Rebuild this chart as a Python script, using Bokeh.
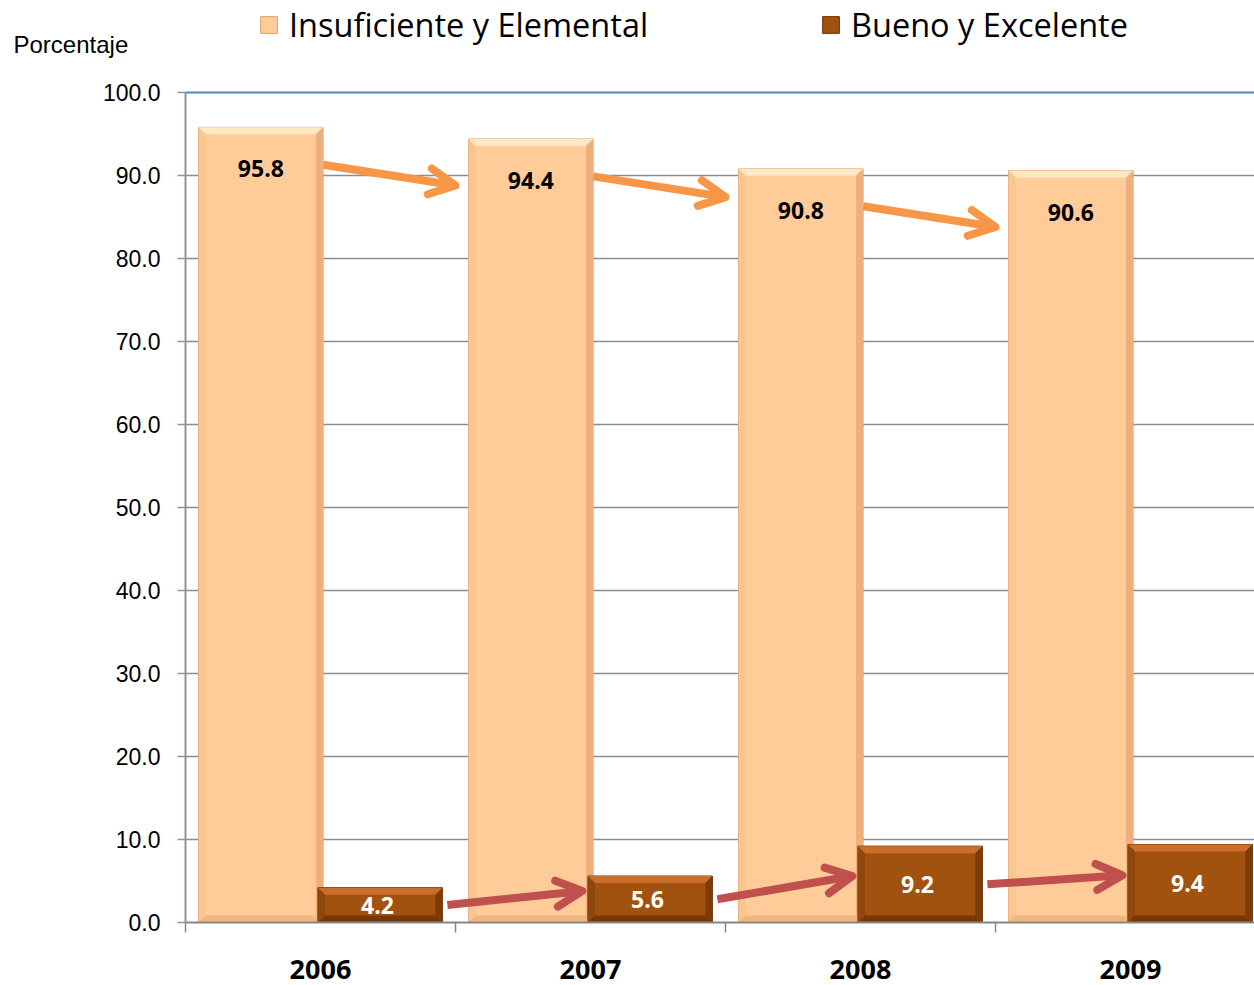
import numpy as np
from bokeh.plotting import figure
from bokeh.models import (Range1d, FixedTicker, NumeralTickFormatter, Label,
                          Legend, LegendItem, Arrow, OpenHead, ColumnDataSource)
from bokeh.core.properties import value
from bokeh.embed import file_html
from bokeh.resources import INLINE

# ---- data ----
years = ["2006", "2007", "2008", "2009"]
insuficiente_elemental = [95.8, 94.4, 90.8, 90.6]
bueno_excelente = [4.2, 5.6, 9.2, 9.4]
y_ticks = [0, 10, 20, 30, 40, 50, 60, 70, 80, 90, 100]
series_names = ["Insuficiente y Elemental", "Bueno y Excelente"]
y_title = "Porcentaje"

# ---- layout constants (page pixels) ----
W, H = 1254, 985
AX_X, AX_Y = 185.0, 922.0      # position of the axes origin
PX_X = 270.0                   # px per category
PX_Y = 8.3                     # px per percentage point
OFF = 0.221
BW = 0.461
X_END = (W - AX_X) / PX_X

p = figure(width=W, height=H,
           x_range=Range1d(-AX_X / PX_X, X_END),
           y_range=Range1d(-(H - AX_Y) / PX_Y, AX_Y / PX_Y),
           output_backend="svg", toolbar_location=None, title=None,
           min_border=0, min_border_left=0, min_border_right=0,
           min_border_top=0, min_border_bottom=0)
p.outline_line_color = None
p.background_fill_color = "white"
p.xgrid.visible = False
p.ygrid.visible = False

n = len(years)
centers = np.arange(n) + 0.5
ins = np.array(insuficiente_elemental)
bue = np.array(bueno_excelente)
yt = np.array(y_ticks, dtype=float)

# horizontal gridlines
p.segment(x0=0, x1=X_END, y0=yt[1:-1], y1=yt[1:-1], line_color="#8C8C8C", line_width=1.5)
p.segment(x0=0, x1=X_END, y0=yt[-1:], y1=yt[-1:], line_color="#4F81BD", line_width=2)

# bars
src_o = ColumnDataSource(dict(x=centers - OFF, top=ins))
src_b = ColumnDataSource(dict(x=centers + OFF, top=bue))
r_o = p.vbar(x="x", top="top", bottom=0, width=BW, source=src_o,
             fill_color="#FFCC99", line_color="#D9A272", line_width=1)


def bevel(xc, tops, cols):
    dx = 7.0 / PX_X
    dy = 7.0 / PX_Y
    xs, ys, cs = [], [], []
    for x, t in zip(xc, tops):
        L, R, B, T = x - BW / 2, x + BW / 2, 0.0, t
        xs += [[L, R, R - dx, L + dx], [R, R, R - dx, R - dx],
               [L, L + dx, L + dx, L], [L, L + dx, R - dx, R]]
        ys += [[T, T, T - dy, T - dy], [T, B, B + dy, T - dy],
               [T, T - dy, B + dy, B], [B, B + dy, B + dy, B]]
        cs += cols
    p.patches(xs, ys, fill_color=cs, line_color=None)


bevel(centers - OFF, ins, ["#FFE9C4", "#EDB07C", "#FAC690", "#F0B680"])
r_b = p.vbar(x="x", top="top", bottom=0, width=BW, source=src_b,
             fill_color="#A2520F", line_color="#6E3408", line_width=1)
bevel(centers + OFF, bue, ["#CA6E2A", "#7C3C0A", "#8E470D", "#773808"])

# value labels
p.text(x=centers - OFF, y=ins - 5.0, text=[f"{v:.1f}" for v in ins],
       text_font=value("Open Sans"), text_font_style="bold", text_font_size="23px",
       text_align="center", text_baseline="middle", text_color="black")
p.text(x=centers + OFF - 0.01, y=bue / 2, text=[f"{v:.1f}" for v in bue],
       text_font=value("Open Sans"), text_font_style="bold", text_font_size="23px",
       text_align="center", text_baseline="middle", text_color="white")

# trend arrows
o_start = ins[:-1] - 4.5
oa = ColumnDataSource(dict(x0=centers[:-1] + 0.01, y0=o_start,
                           x1=centers[1:] - 0.5, y1=o_start - 2.5))
p.add_layout(Arrow(source=oa, x_start="x0", y_start="y0", x_end="x1", y_end="y1",
                   line_color="#F79646", line_width=8,
                   end=OpenHead(size=26, line_color="#F79646", line_width=8,
                                line_join="round", line_cap="round")))
ra = ColumnDataSource(dict(x0=centers[:-1] + 0.47, y0=bue[:-1] / 2,
                           x1=centers[1:] - 0.03, y1=bue[1:] / 2 + 1.0))
p.add_layout(Arrow(source=ra, x_start="x0", y_start="y0", x_end="x1", y_end="y1",
                   line_color="#C0504D", line_width=8,
                   end=OpenHead(size=26, line_color="#C0504D", line_width=8,
                                line_join="round", line_cap="round")))

# axes (fixed at the data origin, inside the frame)
xa = p.xaxis[0]
xa.fixed_location = 0
xa.bounds = (0, X_END)
xa.ticker = FixedTicker(ticks=list(centers), minor_ticks=list(range(n)))
xa.major_label_overrides = {float(c): y for c, y in zip(centers, years)}
xa.major_tick_out = 0
xa.major_tick_in = 0
xa.minor_tick_out = 10
xa.minor_tick_in = 0
xa.minor_tick_line_color = "#868686"
xa.minor_tick_line_width = 1.5
xa.axis_line_color = "#868686"
xa.axis_line_width = 2
xa.major_label_text_font = "Open Sans"
xa.major_label_text_font_style = "bold"
xa.major_label_text_font_size = "27px"
xa.major_label_text_color = "black"
xa.major_label_standoff = 27

ya = p.yaxis[0]
ya.fixed_location = 0
ya.bounds = (0, y_ticks[-1])
ya.ticker = FixedTicker(ticks=y_ticks)
ya.formatter = NumeralTickFormatter(format="0.0")
ya.major_tick_out = 8
ya.major_tick_in = 0
ya.minor_tick_line_color = None
ya.major_tick_line_color = "#8C96A0"
ya.major_tick_line_width = 1.5
ya.axis_line_color = "#8C96A0"
ya.axis_line_width = 2
ya.major_label_text_font = "Liberation Sans"
ya.major_label_text_font_size = "23px"
ya.major_label_text_color = "black"
ya.major_label_standoff = 17

# y title
p.add_layout(Label(x=(13 - AX_X) / PX_X, y=(AX_Y - 43.5) / PX_Y, text=y_title,
                   text_font="Liberation Sans", text_font_size="24px",
                   text_baseline="middle", text_align="left", text_color="black"))

# legends
for r, name, lx in [(r_o, series_names[0], 258), (r_b, series_names[1], 820)]:
    leg = Legend(items=[LegendItem(label=name, renderers=[r])], location=(lx, 938),
                 orientation="horizontal", background_fill_alpha=0, border_line_color=None,
                 padding=0, margin=0, glyph_width=21, glyph_height=21, label_standoff=10,
                 label_text_font="Open Sans", label_text_font_size="32.5px",
                 label_text_color="black")
    p.add_layout(leg)

open("out.html", "w").write(file_html(p, INLINE))
